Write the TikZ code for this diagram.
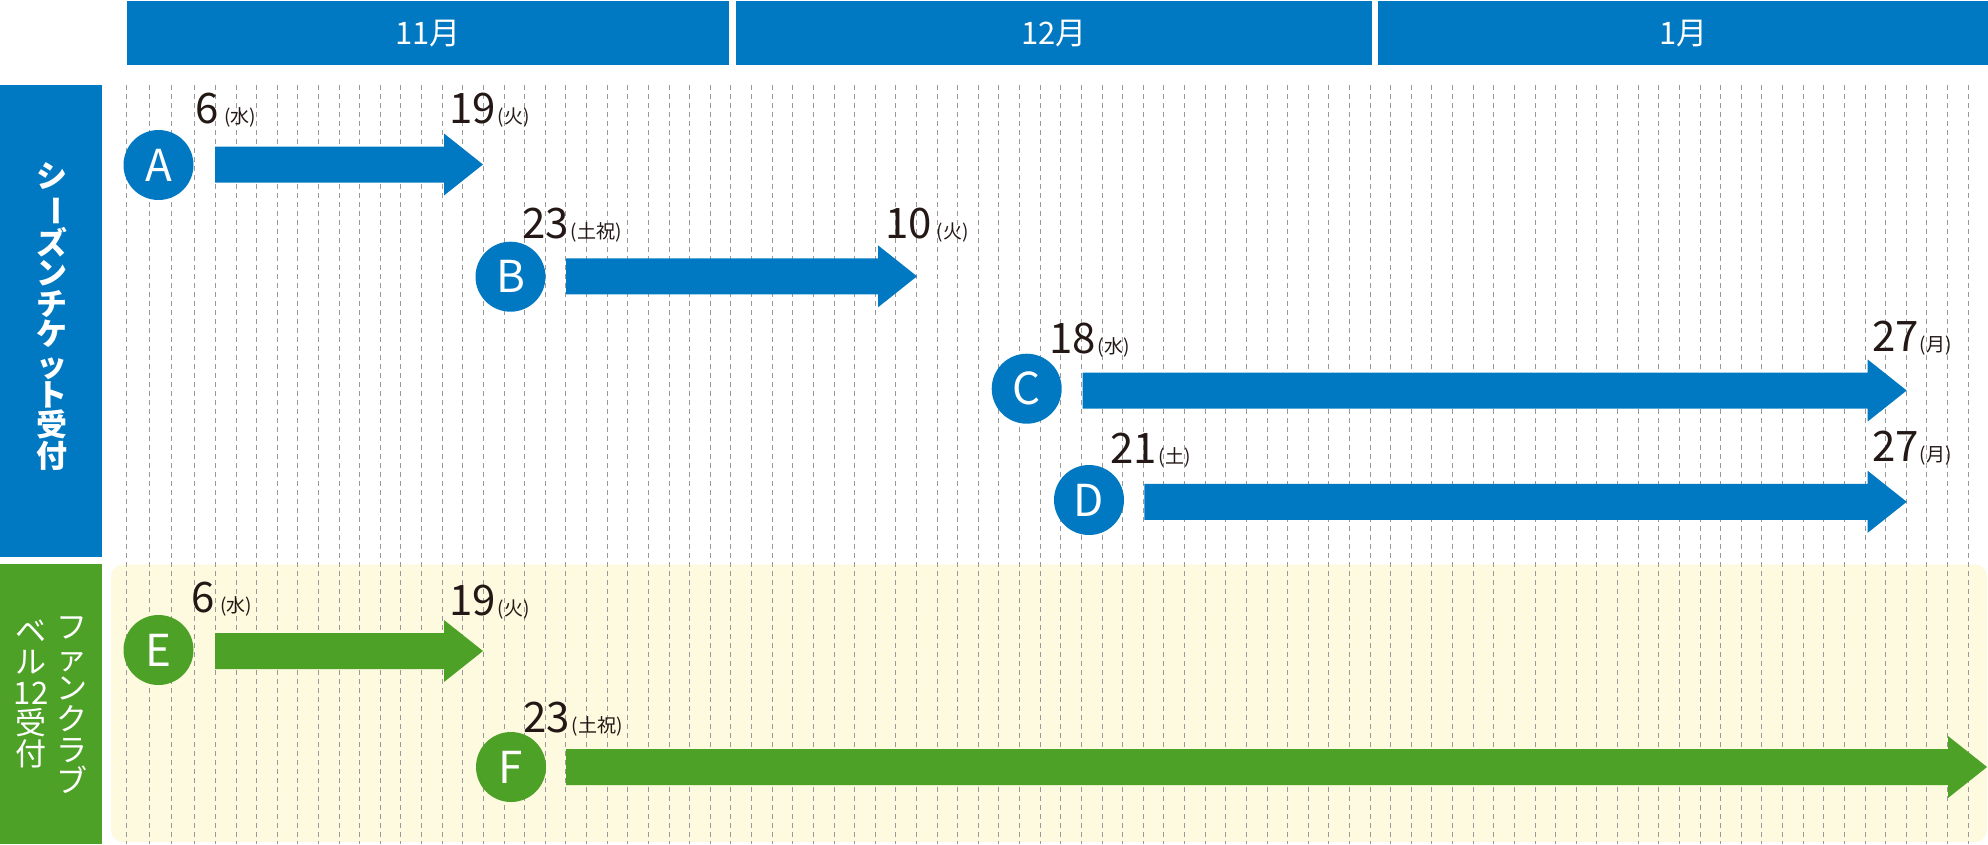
\documentclass[tikz,border=0pt]{standalone}
\usepackage{fontspec}
\usepackage{graphicx}
\newfontfamily\cjk{Noto Sans CJK JP}
\usetikzlibrary{calc}
\definecolor{mblue}{HTML}{0079C2}
\definecolor{mgreen}{HTML}{4DA126}
\definecolor{myellow}{HTML}{FDFADF}
\definecolor{dgray}{HTML}{999999}
\definecolor{ink}{HTML}{231815}
\newcommand{\barrow}[3]{\fill[#1] ($(#2)+(0,-18)$) -- ($(#3)+(-39,-18)$) -- ($(#3)+(-39,-31)$) -- (#3) -- ($(#3)+(-39,31)$) -- ($(#3)+(-39,18)$) -- ($(#2)+(0,18)$) -- cycle;}
\newcommand{\dw}[1]{{\fontsize{19}{19}\selectfont(#1)}}
\begin{document}
\begin{tikzpicture}[x=1pt,y=-1pt,
  monthbar/.style={fill=mblue, draw=none, inner sep=0, text=white, anchor=north west, minimum height=64pt, font=\cjk\fontsize{31}{31}\selectfont},
  circ/.style={circle, minimum size=70pt, inner sep=0, text=white, font=\cjk\fontsize{44}{44}\selectfont},
  datelbl/.style={anchor=base west, inner sep=0, text=ink, font=\cjk\fontsize{42}{42}\selectfont},
  dline/.style={draw=dgray, line width=0.85pt, dash pattern=on 5pt off 4pt},
  vtext/.style={inner sep=0, text=white, align=center}
]
\useasboundingbox (0,0) rectangle (1988,844);
% yellow background of fan club section
\fill[myellow, rounded corners=12pt] (111,564.5) rectangle (1987,842);
% day grid
\foreach \x in {126.7,149,171.5} \draw[dline] (\x,85) -- (\x,844);
\foreach \k in {0,...,86} \draw[dline] ({194.7+20.62*\k},85) -- ({194.7+20.62*\k},844);
% month bars
\node[monthbar, minimum width=602.2pt] (m11) at (126.8,1) {11月};
\node[monthbar, minimum width=636.6pt] (m12) at (735.4,1) {12月};
\node[monthbar, minimum width=610pt] (m1) at (1378,1) {1月};
% left category boxes
\fill[mblue] (0,85) rectangle (101.5,557);
\fill[mgreen] (0,564) rectangle (101.5,844);
\node[vtext, font=\cjk\bfseries\fontsize{31}{30.4}\selectfont] (season) at (52,316.5)
  {シ\\\rotatebox[origin=c]{-90}{ー}\\ズ\\ン\\チ\\ケ\\ッ\\ト\\受\\付};
\node[vtext, font=\cjk\fontsize{31}{30.8}\selectfont] (fan1) at (72,705) {フ\\ァ\\ン\\ク\\ラ\\ブ};
\node[vtext, font=\cjk\fontsize{31}{30.8}\selectfont] (fan2) at (31,694) {ベ\\ル\\12\\受\\付};
% arrow end points
\coordinate (As) at (215,164.5);  \coordinate (Ae) at (483,164.5);
\coordinate (Bs) at (566,276.3);  \coordinate (Be) at (917,276.3);
\coordinate (Cs) at (1082.7,390.5); \coordinate (Ce) at (1906.7,390.5);
\coordinate (Ds) at (1144.3,501.8); \coordinate (De) at (1906.7,501.8);
\coordinate (Es) at (215,651);  \coordinate (Ee) at (483,651);
\coordinate (Fs) at (566,767);  \coordinate (Fe) at (1987,767);
\barrow{mblue}{As}{Ae}
\barrow{mblue}{Bs}{Be}
\barrow{mblue}{Cs}{Ce}
\barrow{mblue}{Ds}{De}
\barrow{mgreen}{Es}{Ee}
\barrow{mgreen}{Fs}{Fe}
% circles
\node[circ, fill=mblue] (A) at (158.5,165) {A};
\node[circ, fill=mblue] (B) at (510.5,276.7) {B};
\node[circ, fill=mblue] (C) at (1026.7,388.7) {C};
\node[circ, fill=mblue] (D) at (1089,500) {D};
\node[circ, fill=mgreen] (E) at (158.5,650) {E};
\node[circ, fill=mgreen] (F) at (511,767) {F};
% date labels
\node[datelbl] (A1) at (195,123) {6\hspace{6pt}\dw{水}};
\node[datelbl] (A2) at (449,123) {19\hspace{2pt}\dw{火}};
\node[datelbl] (B1) at (522,238.5) {23\hspace{2pt}\dw{土祝}};
\node[datelbl] (B2) at (885,238.5) {10\hspace{5pt}\dw{火}};
\node[datelbl] (C1) at (1049,353) {18\hspace{2pt}\dw{水}};
\node[datelbl] (C2) at (1872,351.7) {27\hspace{1pt}\dw{月}};
\node[datelbl] (D1) at (1110,463) {21\hspace{2pt}\dw{土}};
\node[datelbl] (D2) at (1872,461.7) {27\hspace{1pt}\dw{月}};
\node[datelbl] (E1) at (191,612) {6\hspace{6pt}\dw{水}};
\node[datelbl] (E2) at (449,615) {19\hspace{2pt}\dw{火}};
\node[datelbl] (F1) at (523,732) {23\hspace{2pt}\dw{土祝}};
\end{tikzpicture}
\end{document}
